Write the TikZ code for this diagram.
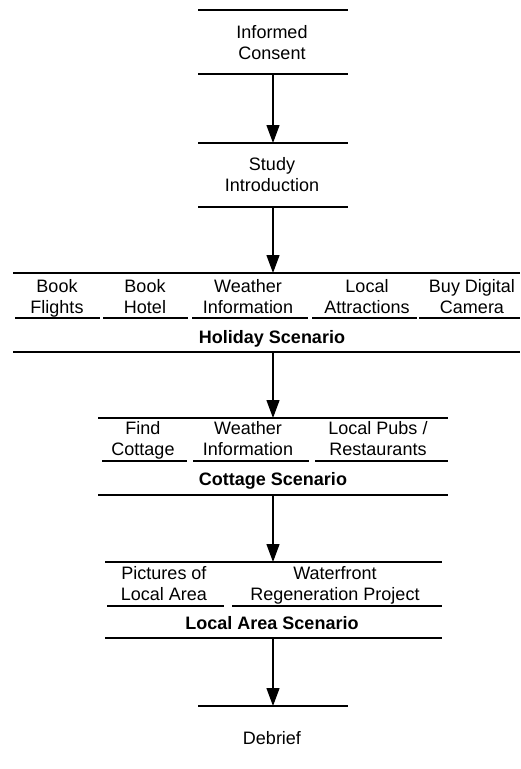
\documentclass[tikz,border=0pt]{standalone}
\usepackage{fontspec}
\setmainfont{Liberation Sans}
\usetikzlibrary{arrows.meta}
\begin{document}
\begin{tikzpicture}[x=1pt,y=-1pt,
  every node/.style={inner sep=0pt, outer sep=0pt},
  txt/.style={font=\fontsize{18}{21}\selectfont, align=center,
    execute at begin node={\strut}, execute at end node={\strut}},
  lbl/.style={txt, font=\fontsize{18}{21}\selectfont\bfseries},
  box/.style args={#1x#2}{minimum width=#1pt, minimum height=#2pt},
  rule/.style={line width=1.3pt},
  arr/.style={line width=1.3pt, -{Triangle[length=18pt,width=13pt]}}
]
\useasboundingbox (0,0) rectangle (520,769);

% Informed Consent
\node[box=150x64] (ic) at (273,42) {};
\draw[rule] (ic.north west) -- (ic.north east);
\draw[rule] (ic.south west) -- (ic.south east);
\node[txt] (ict) at (272,46) {Informed\\Consent};

% Study Introduction
\node[box=150x64] (si) at (273,175) {};
\draw[rule] (si.north west) -- (si.north east);
\draw[rule] (si.south west) -- (si.south east);
\node[txt] (sit) at (272,178) {Study\\Introduction};

% Holiday Scenario group
\node[box=507x79] (hol) at (266.5,312.5) {};
\draw[rule] (hol.north west) -- (hol.north east);
\draw[rule] (hol.south west) -- (hol.south east);
\node[box=85x45] (bf) at (57.5,295.5) {};
\node[box=85x45] (bh) at (145.5,295.5) {};
\node[box=116x45] (wi1) at (250,295.5) {};
\node[box=105x45] (la) at (364.5,295.5) {};
\node[box=101x45] (bdc) at (469.5,295.5) {};
\foreach \n in {bf,bh,wi1,la,bdc} \draw[rule] (\n.south west) -- (\n.south east);
\node[txt] (bft) at (57,300) {Book\\Flights};
\node[txt] (bht) at (145,300) {Book\\Hotel};
\node[txt] (wi1t) at (248,300) {Weather\\Information};
\node[txt] (lat) at (367,300) {Local\\Attractions};
\node[txt] (bdct) at (472,300) {Buy Digital\\Camera};
\node[lbl] (holl) at (272,339) {Holiday Scenario};

% Cottage Scenario group
\node[box=350x77] (cot) at (273,456.5) {};
\draw[rule] (cot.north west) -- (cot.north east);
\draw[rule] (cot.south west) -- (cot.south east);
\node[box=85x43] (fc) at (144.5,439.5) {};
\node[box=116x43] (wi2) at (251,439.5) {};
\node[box=133x43] (lp) at (381.5,439.5) {};
\foreach \n in {fc,wi2,lp} \draw[rule] (\n.south west) -- (\n.south east);
\node[txt] (fct) at (143,442) {Find\\Cottage};
\node[txt] (wi2t) at (248,442) {Weather\\Information};
\node[txt] (lpt) at (378,442) {Local Pubs /\\Restaurants};
\node[lbl] (cotl) at (273,481.5) {Cottage Scenario};

% Local Area Scenario group
\node[box=337x76] (loc) at (273.5,600) {};
\draw[rule] (loc.north west) -- (loc.north east);
\draw[rule] (loc.south west) -- (loc.south east);
\node[box=117x44] (pl) at (165.5,584) {};
\node[box=210x44] (wr) at (337,584) {};
\foreach \n in {pl,wr} \draw[rule] (\n.south west) -- (\n.south east);
\node[txt] (plt) at (164,586.5) {Pictures of\\Local Area};
\node[txt] (wrt) at (335,586.5) {Waterfront\\Regeneration Project};
\node[lbl] (locl) at (272,625.5) {Local Area Scenario};

% Debrief
\node[box=150x66] (deb) at (273,739) {};
\draw[rule] (deb.north west) -- (deb.north east);
\node[txt] (debt) at (272,740.5) {Debrief};

% Arrows
\draw[arr] (ic.south) -- (si.north);
\draw[arr] (si.south) -- (si.south |- hol.north);
\draw[arr] (si.south |- hol.south) -- (cot.north);
\draw[arr] (cot.south) -- (cot.south |- loc.north);
\draw[arr] (cot.south |- loc.south) -- (deb.north);
\end{tikzpicture}
\end{document}
